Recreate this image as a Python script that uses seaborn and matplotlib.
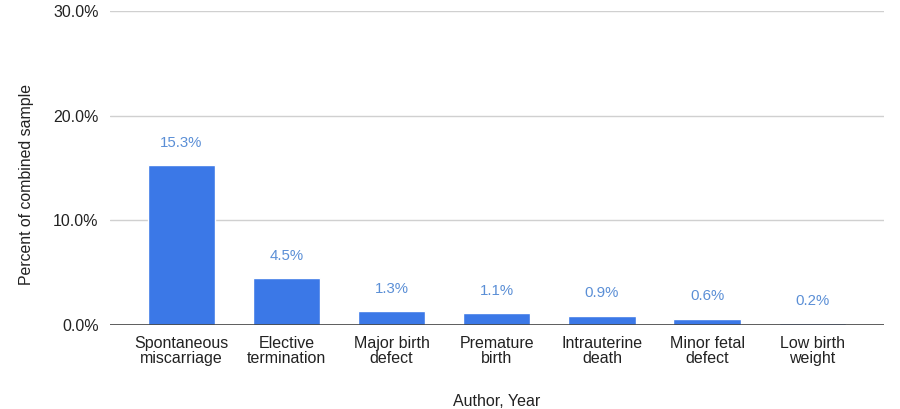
import matplotlib
matplotlib.use("Agg")
import matplotlib.pyplot as plt
import seaborn as sns
import pandas as pd
from matplotlib.ticker import FuncFormatter

outcomes = [
    "Spontaneous\nmiscarriage",
    "Elective\ntermination",
    "Major birth\ndefect",
    "Premature\nbirth",
    "Intrauterine\ndeath",
    "Minor fetal\ndefect",
    "Low birth\nweight",
]
percent = [15.3, 4.5, 1.3, 1.1, 0.9, 0.6, 0.2]
y_ticks = [0, 10, 20, 30]

sns.set_style("white")
plt.rcParams["font.family"] = ["Liberation Sans", "DejaVu Sans"]

df = pd.DataFrame({"outcome": outcomes, "percent": percent})

fig = plt.figure(figsize=(9, 4.09), dpi=100)
ax = fig.add_axes([0.122, 0.2054, 0.860, 0.7676])

bar_color = "#3b78e7"
sns.barplot(data=df, x="outcome", y="percent", color=bar_color,
            width=0.64, saturation=1, ax=ax, zorder=3)

for i, v in enumerate(percent):
    ax.annotate(f"{v:.1f}%", xy=(i, v), xytext=(0, 11),
                textcoords="offset points", ha="center", va="bottom",
                fontsize=10.8, color="#5b8fd6")

ax.set_ylim(0, 30)
ax.set_xlim(-0.68, 6.68)
ax.set_yticks(y_ticks)
ax.yaxis.set_major_formatter(FuncFormatter(lambda v, _: f"{v:.1f}%"))
ax.grid(axis="y", color="#d0d0d0", linewidth=1, zorder=0)
ax.axhline(0, color="#444444", linewidth=1.2, zorder=4)

for s in ax.spines.values():
    s.set_visible(False)
ax.tick_params(axis="both", length=0, labelsize=11.5, colors="#222222")
ax.tick_params(axis="y", pad=8)
ax.tick_params(axis="x", pad=8)
for lbl in ax.get_xticklabels():
    lbl.set_linespacing(1.0)

ax.set_xlabel("Author, Year", fontsize=11.5, color="#222222", labelpad=20)
ax.set_ylabel("Percent of combined sample", fontsize=11.4, color="#222222", labelpad=16)
ax.yaxis.set_label_coords(-0.098, 0.446)

fig.savefig("out.png", dpi=100)
